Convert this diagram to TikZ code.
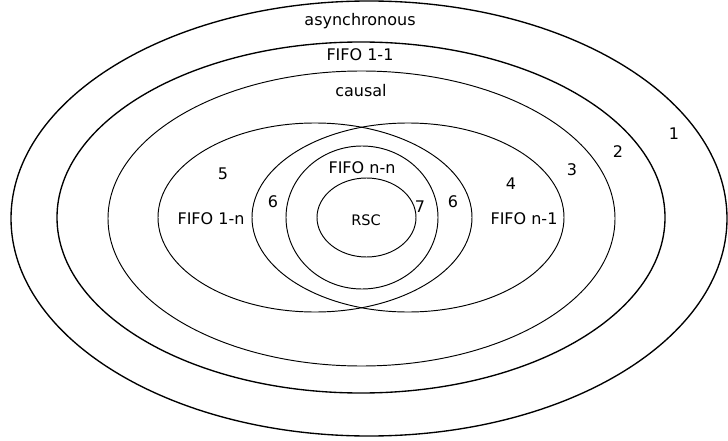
\documentclass[tikz,border=0pt]{standalone}
\usepackage{fontspec}
\setmainfont{DejaVu Sans}
\usetikzlibrary{shapes.geometric}
\begin{document}
\begin{tikzpicture}[x=1pt,y=-1pt,
  thickset/.style={draw=black,line width=1.35pt,ellipse,inner sep=0pt},
  thinset/.style={draw=black,line width=0.95pt,ellipse,inner sep=0pt},
  lbl/.style={font=\fontsize{16}{19}\selectfont,inner sep=1pt}]
\useasboundingbox (0,0) rectangle (728,441);
% sets
\node[thickset,minimum width=716pt,minimum height=435pt] (async) at (369,218.5) {};
\node[thickset,minimum width=608pt,minimum height=351pt] (fifo11) at (361,217.5) {};
\node[thinset,minimum width=507pt,minimum height=295pt] (causal) at (361.5,218.5) {};
\node[thinset,minimum width=314pt,minimum height=189pt] (fifo1n) at (315,217.5) {};
\node[thinset,minimum width=312pt,minimum height=189pt] (fifon1) at (408,217.5) {};
\node[thinset,minimum width=152pt,minimum height=143pt] (fifonn) at (362,217.5) {};
\node[thinset,minimum width=99pt,minimum height=79pt] (rsc) at (366.5,217.5) {};
% names
\node[lbl] (tasync) at (360,21.5) {asynchronous};
\node[lbl] (tfifo11) at (360,54.5) {FIFO 1-1};
\node[lbl] (tcausal) at (361,90.5) {causal};
\node[lbl] (tfifonn) at (362,168) {FIFO n-n};
\node[lbl] (tfifo1n) at (211,219) {FIFO 1-n};
\node[lbl] (tfifon1) at (524,219) {FIFO n-1};
\node[lbl,font=\fontsize{14.5}{17}\selectfont] (trsc) at (366,220) {RSC};
% region numbers
\node[lbl] (n1) at (674,134) {1};
\node[lbl] (n2) at (618,152) {2};
\node[lbl] (n3) at (572,170) {3};
\node[lbl] (n4) at (511,184) {4};
\node[lbl] (n5) at (223,174) {5};
\node[lbl] (n6a) at (273,202) {6};
\node[lbl] (n6b) at (453,202) {6};
\node[lbl,inner sep=0.5pt] (n7) at (420,207) {7};
\end{tikzpicture}
\end{document}
